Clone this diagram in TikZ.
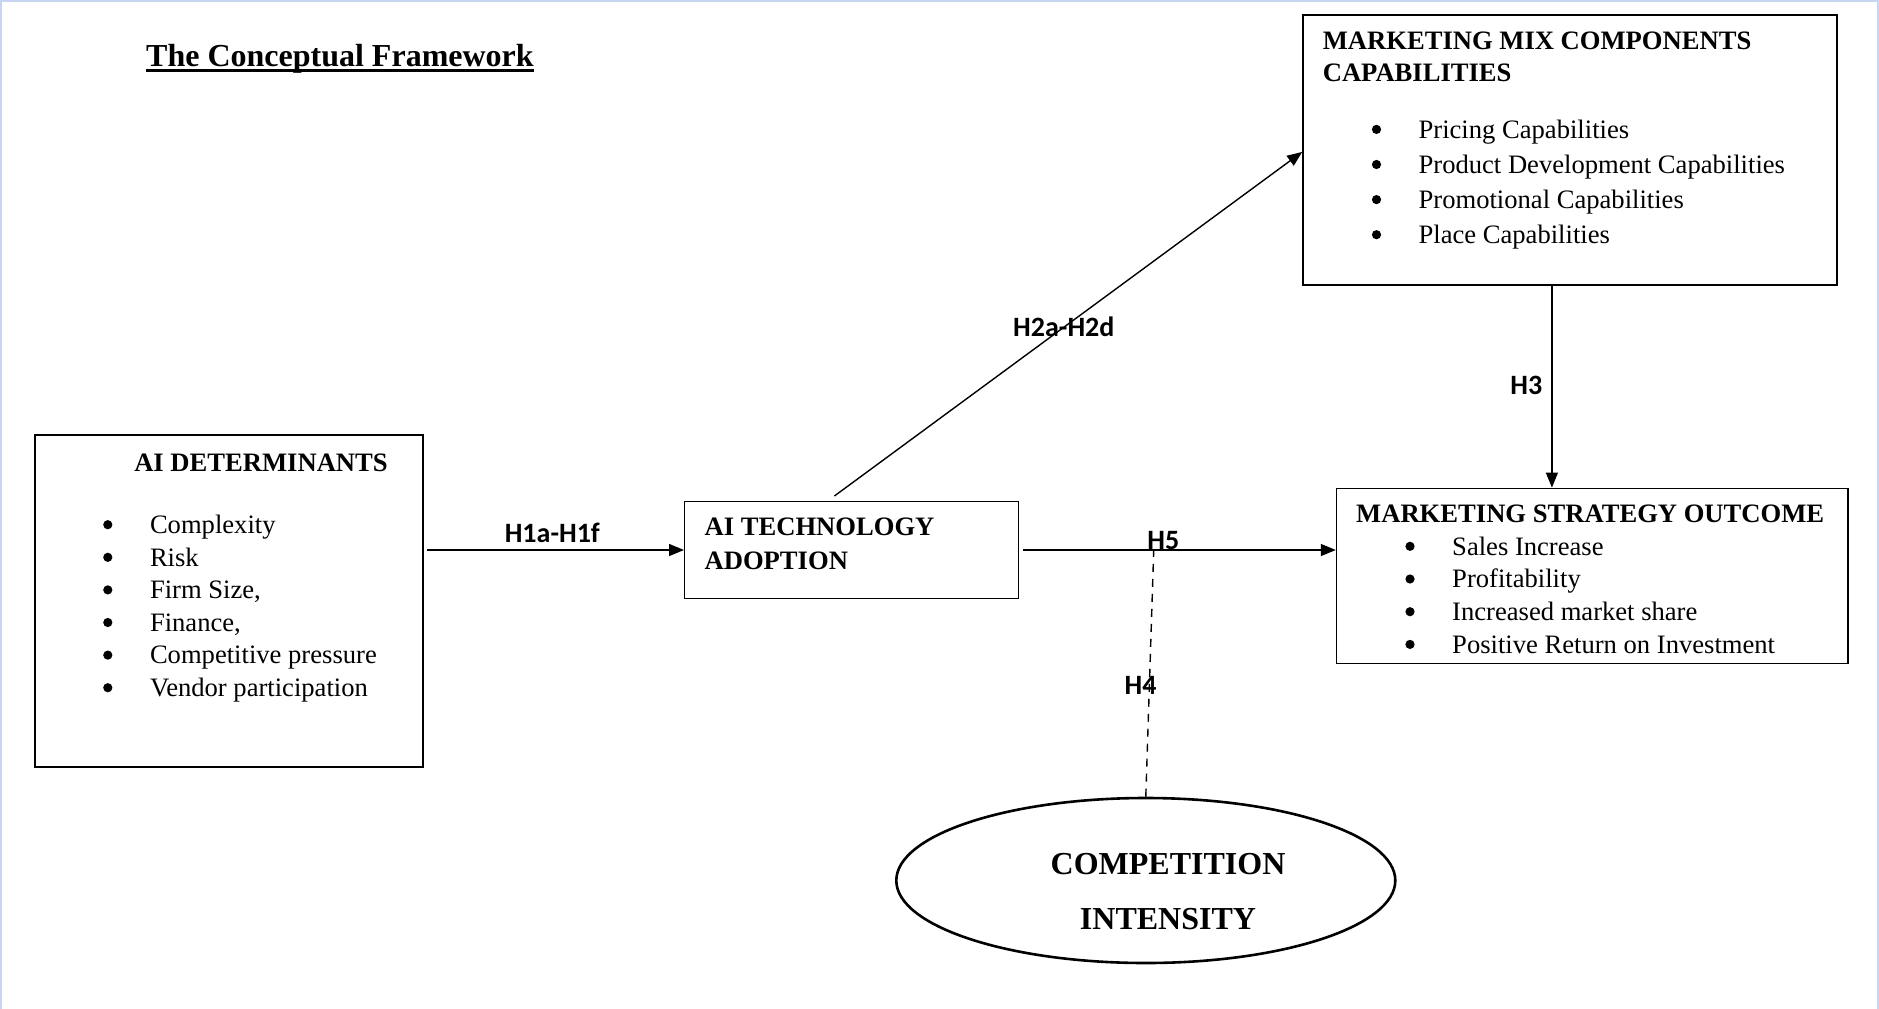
\documentclass[tikz,border=0pt]{standalone}
\usepackage{fontspec}
\setmainfont{Liberation Serif}
\newfontfamily\labfont{Carlito}
\usetikzlibrary{arrows.meta,shapes.geometric,calc}

\begin{document}
\begin{tikzpicture}[x=1pt,y=-1pt,
  body/.style={font=\fontsize{26.6}{32}\selectfont, inner sep=0pt, anchor=base west},
  head/.style={body, font=\fontsize{26.6}{32}\selectfont\bfseries},
  hyp/.style={font=\fontsize{28}{32}\selectfont\labfont\bfseries, inner sep=0pt, anchor=base},
  boxed/.style={draw, line width=1.4pt, rectangle, inner sep=0pt, anchor=north west},
  arr/.style={line width=1.4pt, -{Triangle[length=15pt,width=12pt]}},
  frame/.style={draw=blue!25!cyan!15!white, line width=2.4pt},
  dot/.style={fill=black}
]
\useasboundingbox (0,0) rectangle (1879,1009);
\fill[white] (0,0) rectangle (1879,1009);
\draw[frame, draw={rgb,255:red,198;green,214;blue,242}] (1.2,1009) -- (1.2,1.2) -- (1877.8,1.2) -- (1877.8,1009);

% title
\node[font=\fontsize{32}{38}\selectfont\bfseries, inner sep=0pt, anchor=base west] (title) at (146,66) {The Conceptual Framework};
\draw[line width=2.6pt] ($(title.base west)+(0,4.5)$) -- ($(title.base east)+(0,4.5)$);

% boxes
\node[boxed, line width=2.6pt, minimum width=388pt, minimum height=332pt] (det) at (33.5,433.7) {};
\node[boxed, minimum width=334pt, minimum height=97pt] (tech) at (684,500.8) {};
\node[boxed, minimum width=534pt, minimum height=270pt] (mix) at (1302.2,14.4) {};
\node[boxed, minimum width=511.5pt, minimum height=175pt] (out) at (1335.8,487.6) {};
\node[draw, ellipse, line width=2.6pt, minimum width=499pt, minimum height=165pt, inner sep=0pt] (ci) at (1145.8,880.5) {};

% AI determinants
\node[head, anchor=base] (dethead) at (261,471.2) {AI DETERMINANTS};
\foreach \t [count=\i] in {Complexity, Risk, {Firm Size,}, {Finance,}, Competitive pressure, Vendor participation} {
  \pgfmathsetmacro\yb{533.5+(\i-1)*32.6}
  \fill[dot] (107.8,\yb-8.8) circle (4.6);
  \node[body] (det\i) at (149.8,\yb) {\t};
}

% AI technology adoption
\node[head] (tech1) at (704.4,535.8) {AI TECHNOLOGY};
\node[head] (tech2) at (704.4,569.5) {ADOPTION};

% marketing mix components capabilities
\node[head] (mix1) at (1322.6,49.5) {MARKETING MIX COMPONENTS};
\node[head] (mix2) at (1322.6,81.8) {CAPABILITIES};
\foreach \t [count=\i] in {Pricing Capabilities, Product Development Capabilities, Promotional Capabilities, Place Capabilities} {
  \pgfmathsetmacro\yb{138.2+(\i-1)*35.1}
  \fill[dot] (1376.5,\yb-8.8) circle (4.6);
  \node[body] (mixi\i) at (1418.4,\yb) {\t};
}

% marketing strategy outcome
\node[head] (outhead) at (1356,522.8) {MARKETING STRATEGY OUTCOME};
\foreach \t [count=\i] in {Sales Increase, Profitability, Increased market share, Positive Return on Investment} {
  \pgfmathsetmacro\yb{555.1+(\i-1)*32.7}
  \fill[dot] (1410,\yb-8.8) circle (4.6);
  \node[body] (outi\i) at (1452,\yb) {\t};
}

% competition intensity
\node[font=\fontsize{32}{38}\selectfont\bfseries, inner sep=0pt, anchor=base] (ci1) at (1168,874.4) {COMPETITION};
\node[font=\fontsize{32}{38}\selectfont\bfseries, inner sep=0pt, anchor=base] (ci2) at (1168,929.5) {INTENSITY};

% connectors
\coordinate (h1s) at ($(det.east |- tech.west)+(3,0)$);
\draw[arr] (h1s) -- (tech.west);
\coordinate (h2s) at ($(tech.north)+(-17.3,-4.8)$);
\draw[arr] (h2s) -- ($(mix.west)+(0,1.8)$);
\coordinate (h3s) at ($(mix.south)+(-18,0)$);
\draw[arr] (h3s) -- (h3s |- out.north);
\coordinate (h5s) at ($(tech.east)+(4,0)$);
\draw[arr] (h5s) -- (tech.east -| out.west);
\coordinate (h4e) at (1153.7,551);
\draw[line width=1.4pt, dash pattern=on 8pt off 7pt] (ci.north) -- (h4e);

% hypothesis labels
\node[hyp] (lh1) at (552.3,542) {H1a-H1f};
\node[hyp] (lh2) at (1063.8,336) {H2a-H2d};
\node[hyp] (lh3) at (1526.3,394.8) {H3};
\node[hyp] (lh5) at (1163.3,549.3) {H5};
\node[hyp] (lh4) at (1140.5,694.3) {H4};
\end{tikzpicture}
\end{document}
